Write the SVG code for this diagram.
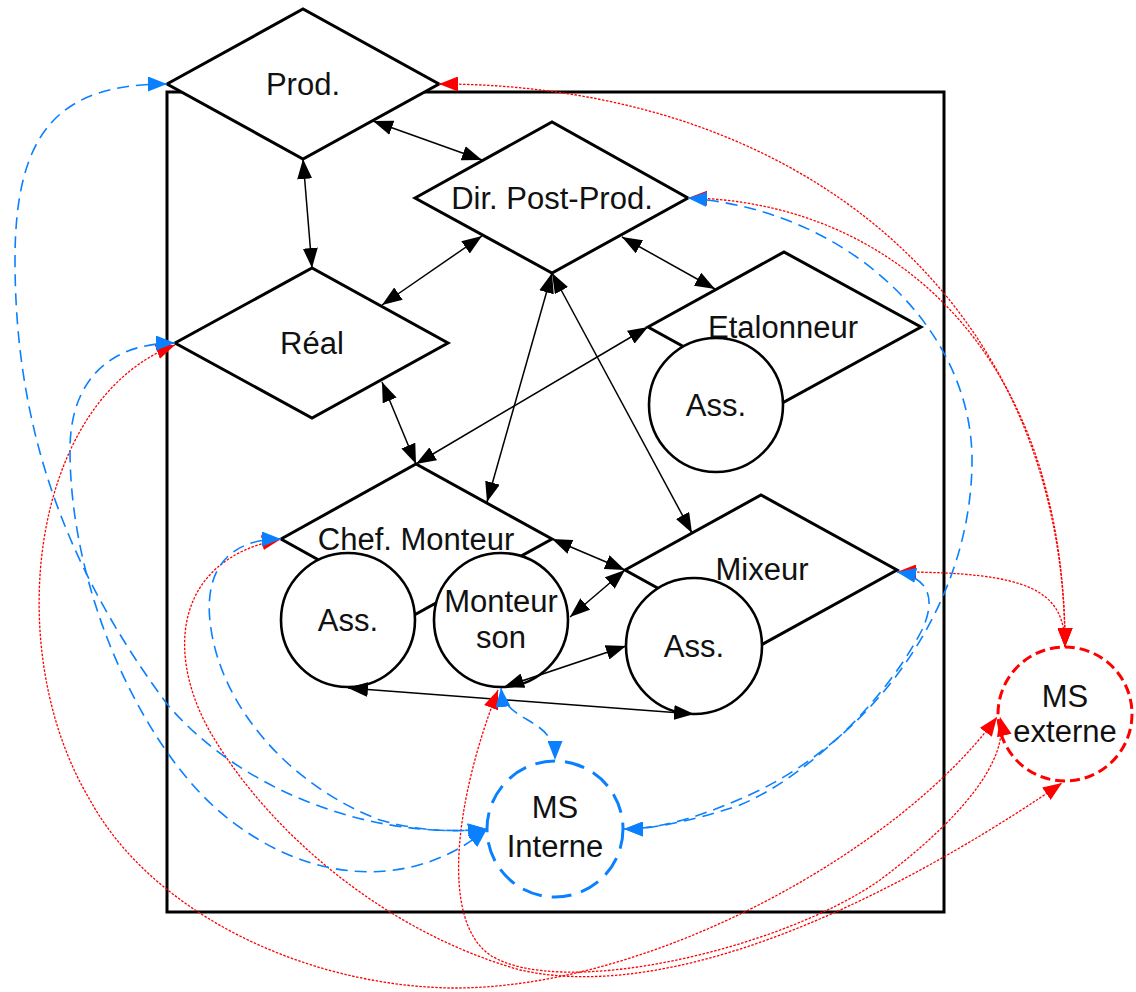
<svg xmlns="http://www.w3.org/2000/svg" width="1136" height="992" viewBox="0 0 1136 992">
<style>
.shape{fill:#fff;stroke:#000;stroke-width:3;stroke-linejoin:miter}
.circ{fill:#fff;stroke:#000;stroke-width:2.6}
.lbl{font-family:"Liberation Sans",Arial,Helvetica,sans-serif;font-size:31px;fill:#111;text-anchor:middle}
.blk{fill:none;stroke:#000;stroke-width:1.5;marker-start:url(#mk);marker-end:url(#mk)}
.red{fill:none;stroke:#ff0000;stroke-width:1.3;stroke-dasharray:2.5 1.5;marker-start:url(#mr);marker-end:url(#mr)}
.blu{fill:none;stroke:#0a80ff;stroke-width:1.6;stroke-dasharray:12 7;marker-start:url(#mb);marker-end:url(#mb)}
</style>
<defs>
<marker id="mk" viewBox="0 0 20 15" refX="20" refY="7.5" markerWidth="20" markerHeight="15" markerUnits="userSpaceOnUse" orient="auto-start-reverse"><path d="M0,0 L20,7.5 L0,15 z" fill="#000"/></marker>
<marker id="mr" viewBox="0 0 19 15" refX="19" refY="7.5" markerWidth="19" markerHeight="15" markerUnits="userSpaceOnUse" orient="auto-start-reverse"><path d="M0,0 L19,7.5 L0,15 z" fill="#ff0000"/></marker>
<marker id="mb" viewBox="0 0 19 15" refX="19" refY="7.5" markerWidth="19" markerHeight="15" markerUnits="userSpaceOnUse" orient="auto-start-reverse"><path d="M0,0 L19,7.5 L0,15 z" fill="#0a80ff"/></marker>
</defs>
<rect width="1136" height="992" fill="#fff"/>
<g id="frame"><rect x="167" y="92" width="777" height="820" fill="none" stroke="#000" stroke-width="3"/></g>

<g id="prod"><polygon class="shape" points="167,84 303,9 439,84 303,159"/><text class="lbl" x="303" y="95">Prod.</text></g>
<g id="dirpost"><polygon class="shape" points="415,198 552,122 688,198 552,273"/><text class="lbl" x="552" y="209">Dir. Post-Prod.</text></g>
<g id="real"><polygon class="shape" points="175,343 312,268 448,343 312,418"/><text class="lbl" x="312" y="354">Réal</text></g>
<g id="etalonneur"><polygon class="shape" points="648,327 784,252 921,327 784,402"/><text class="lbl" x="783" y="338">Etalonneur</text>
<circle class="circ" cx="716" cy="405" r="67"/><text class="lbl" x="716" y="416">Ass.</text></g>
<g id="chef"><polygon class="shape" points="281,539 416,464 552,539 416,614"/><text class="lbl" x="416" y="550">Chef. Monteur</text>
<circle class="circ" cx="348" cy="620" r="67"/><text class="lbl" x="348" y="631">Ass.</text>
<circle class="circ" cx="501" cy="620" r="67"/><text class="lbl" x="501" y="612">Monteur</text><text class="lbl" x="501" y="648">son</text></g>
<g id="mixeur"><polygon class="shape" points="625,570 761,495 897,570 761,645"/><text class="lbl" x="762" y="580">Mixeur</text>
<circle class="circ" cx="694" cy="646" r="68"/><text class="lbl" x="694" y="657">Ass.</text></g>
<g id="msinterne"><circle cx="555" cy="829" r="68" fill="#fff" stroke="#0a80ff" stroke-width="3" stroke-dasharray="20 10"/><text class="lbl" x="555" y="818">MS</text><text class="lbl" x="555" y="857">Interne</text></g>
<g id="msexterne"><circle cx="1065" cy="714" r="67" fill="#fff" stroke="#ff0000" stroke-width="3" stroke-dasharray="10 5"/><text class="lbl" x="1065" y="707">MS</text><text class="lbl" x="1065" y="742">externe</text></g>

<g id="connectors">
<path class="blk" d="M373,121 L482,160"/>
<path class="blk" d="M303,159 L312,268"/>
<path class="blk" d="M382,305 L482,236"/>
<path class="blk" d="M622,237 L715,289"/>
<path class="blk" d="M382,382 L416,464"/>
<path class="blk" d="M416,464 L648,327"/>
<path class="blk" d="M552,273 L487,502"/>
<path class="blk" d="M552,273 L692,533"/>
<path class="blk" d="M552,539 L625,570"/>
<path class="blk" d="M570,617 L625,570"/>
<path class="blk" d="M504,687 L626,646"/>
<path class="blk" d="M348,688 L694,714"/>

<path class="red" d="M439,84 C800,84 1065,300 1065,647"/>
<path class="red" d="M688,198 C880,200 1065,340 1065,647"/>
<path class="red" d="M897,572 C1030,572 1065,590 1065,647"/>
<path class="red" d="M175,345 C30,400 0,650 90,800 C150,910 300,985 450,988 C650,990 900,850 997,717"/>
<path class="red" d="M281,539 C170,560 165,660 215,740 C270,830 380,930 520,970 C700,1010 950,860 1062,783"/>
<path class="red" d="M498,690 C455,800 440,920 490,955 C560,1000 780,950 880,880 C960,820 1010,760 1000,717"/>

<path class="blu" d="M167,84 C60,84 15,130 15,260 C15,420 60,560 167,704 C240,790 370,840 487,829"/>
<path class="blu" d="M175,343 C110,343 70,380 70,450 C70,600 150,760 230,820 C320,890 420,885 487,829"/>
<path class="blu" d="M281,539 C220,539 200,580 213,640 C230,720 300,790 380,820 C420,832 460,832 487,829"/>
<path class="blu" d="M688,198 C850,210 972,330 972,460 C972,600 880,730 760,790 C700,818 660,829 624,829"/>
<path class="blu" d="M897,572 C930,578 936,600 922,630 C880,710 800,780 740,805 C690,822 650,829 624,829"/>
<path class="blu" d="M501,688 C505,725 555,715 555,760"/>
</g>
</svg>
